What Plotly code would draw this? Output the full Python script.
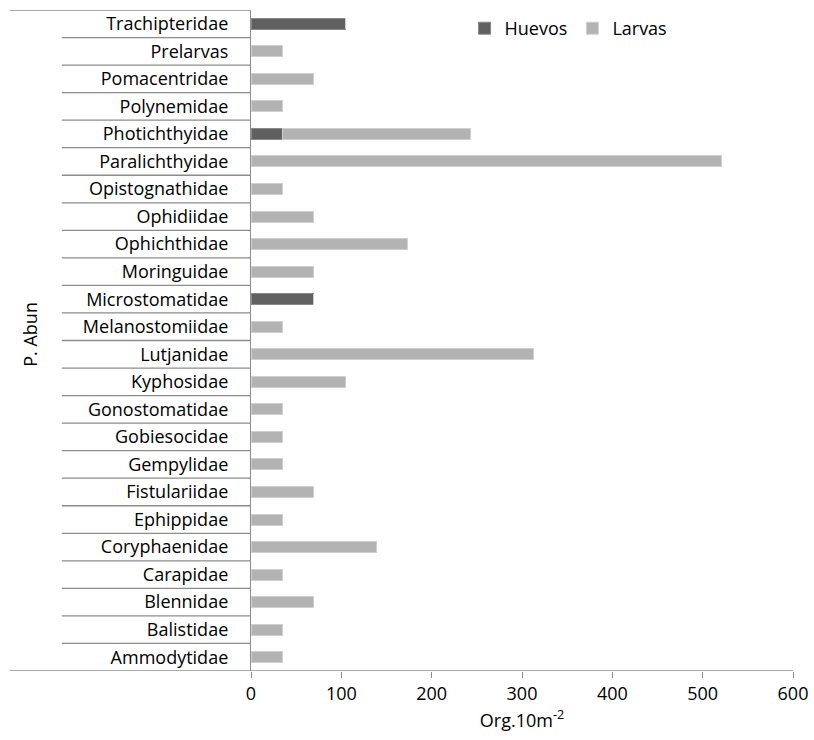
import plotly.graph_objects as go

categories = ["Ammodytidae", "Balistidae", "Blennidae", "Carapidae", "Coryphaenidae",
              "Ephippidae", "Fistulariidae", "Gempylidae", "Gobiesocidae", "Gonostomatidae",
              "Kyphosidae", "Lutjanidae", "Melanostomiidae", "Microstomatidae", "Moringuidae",
              "Ophichthidae", "Ophidiidae", "Opistognathidae", "Paralichthyidae", "Photichthyidae",
              "Polynemidae", "Pomacentridae", "Prelarvas", "Trachipteridae"]
huevos = [0, 0, 0, 0, 0, 0, 0, 0, 0, 0, 0, 0, 0, 69.4, 0, 0, 0, 0, 0, 34.7, 0, 0, 0, 104.2]
larvas = [34.7, 34.7, 69.4, 34.7, 138.9, 34.7, 69.4, 34.7, 34.7, 34.7, 104.2, 312.5, 34.7, 0,
          69.4, 173.6, 69.4, 34.7, 520.8, 208.3, 34.7, 69.4, 34.7, 0]
x_ticks = [0, 100, 200, 300, 400, 500, 600]

FONT = "Open Sans"
GRID = "#8c8c8c"
FS = 18

fig = go.Figure()
fig.add_trace(go.Bar(y=categories, x=huevos, name="Huevos", orientation="h",
                     marker=dict(color="#606060", line=dict(color="#8a8a8a", width=1)),
                     width=0.4))
fig.add_trace(go.Bar(y=categories, x=larvas, name="Larvas", orientation="h",
                     marker=dict(color="#b3b3b3", line=dict(color="#d0d0d0", width=1)),
                     width=0.4))

n = len(categories)
shapes = []
for i in range(n + 1):
    yv = i - 0.5
    if i == 0:
        x0, x1 = -0.445, 1.0
    elif i == n:
        x0, x1 = -0.445, 0.0
    else:
        x0, x1 = -0.349, 0.0
    shapes.append(dict(type="line", xref="paper", yref="y", x0=x0, x1=x1, y0=yv, y1=yv,
                       line=dict(color=GRID, width=1.3), layer="above"))

fig.update_layout(
    width=814, height=740,
    margin=dict(l=251, r=21, t=10, b=69, autoexpand=False),
    paper_bgcolor="white", plot_bgcolor="white",
    barmode="stack",
    font=dict(family=FONT, size=FS, color="#000000"),
    showlegend=True,
    legend=dict(orientation="h", x=0.394, y=0.972, xanchor="left", yanchor="middle",
                font=dict(family=FONT, size=FS), bgcolor="rgba(0,0,0,0)",
                itemwidth=30, traceorder="normal"),
    xaxis=dict(range=[0, 600], tickvals=x_ticks, showgrid=False, zeroline=False,
               showline=False, ticks="outside", ticklen=6, tickcolor=GRID, tickwidth=1.3,
               tickfont=dict(family=FONT, size=FS), automargin=False,
               title=dict(text="Org.10m<sup>-2</sup>", font=dict(family=FONT, size=FS), standoff=10)),
    yaxis=dict(range=[-0.5, n - 0.5], showgrid=False, zeroline=False, showline=True,
               linecolor=GRID, linewidth=1.3, ticks="", ticklabelstandoff=18,
               tickfont=dict(family=FONT, size=FS), automargin=False),
    shapes=shapes,
    annotations=[dict(text="P. Abun", xref="paper", yref="paper", x=-0.408, y=0.51,
                      textangle=-90, showarrow=False, font=dict(family=FONT, size=FS),
                      xanchor="center", yanchor="middle")],
)

fig.write_html("out.html", config={"displayModeBar": False},
               post_script="document.body.style.margin='0';document.body.style.overflow='hidden';")
